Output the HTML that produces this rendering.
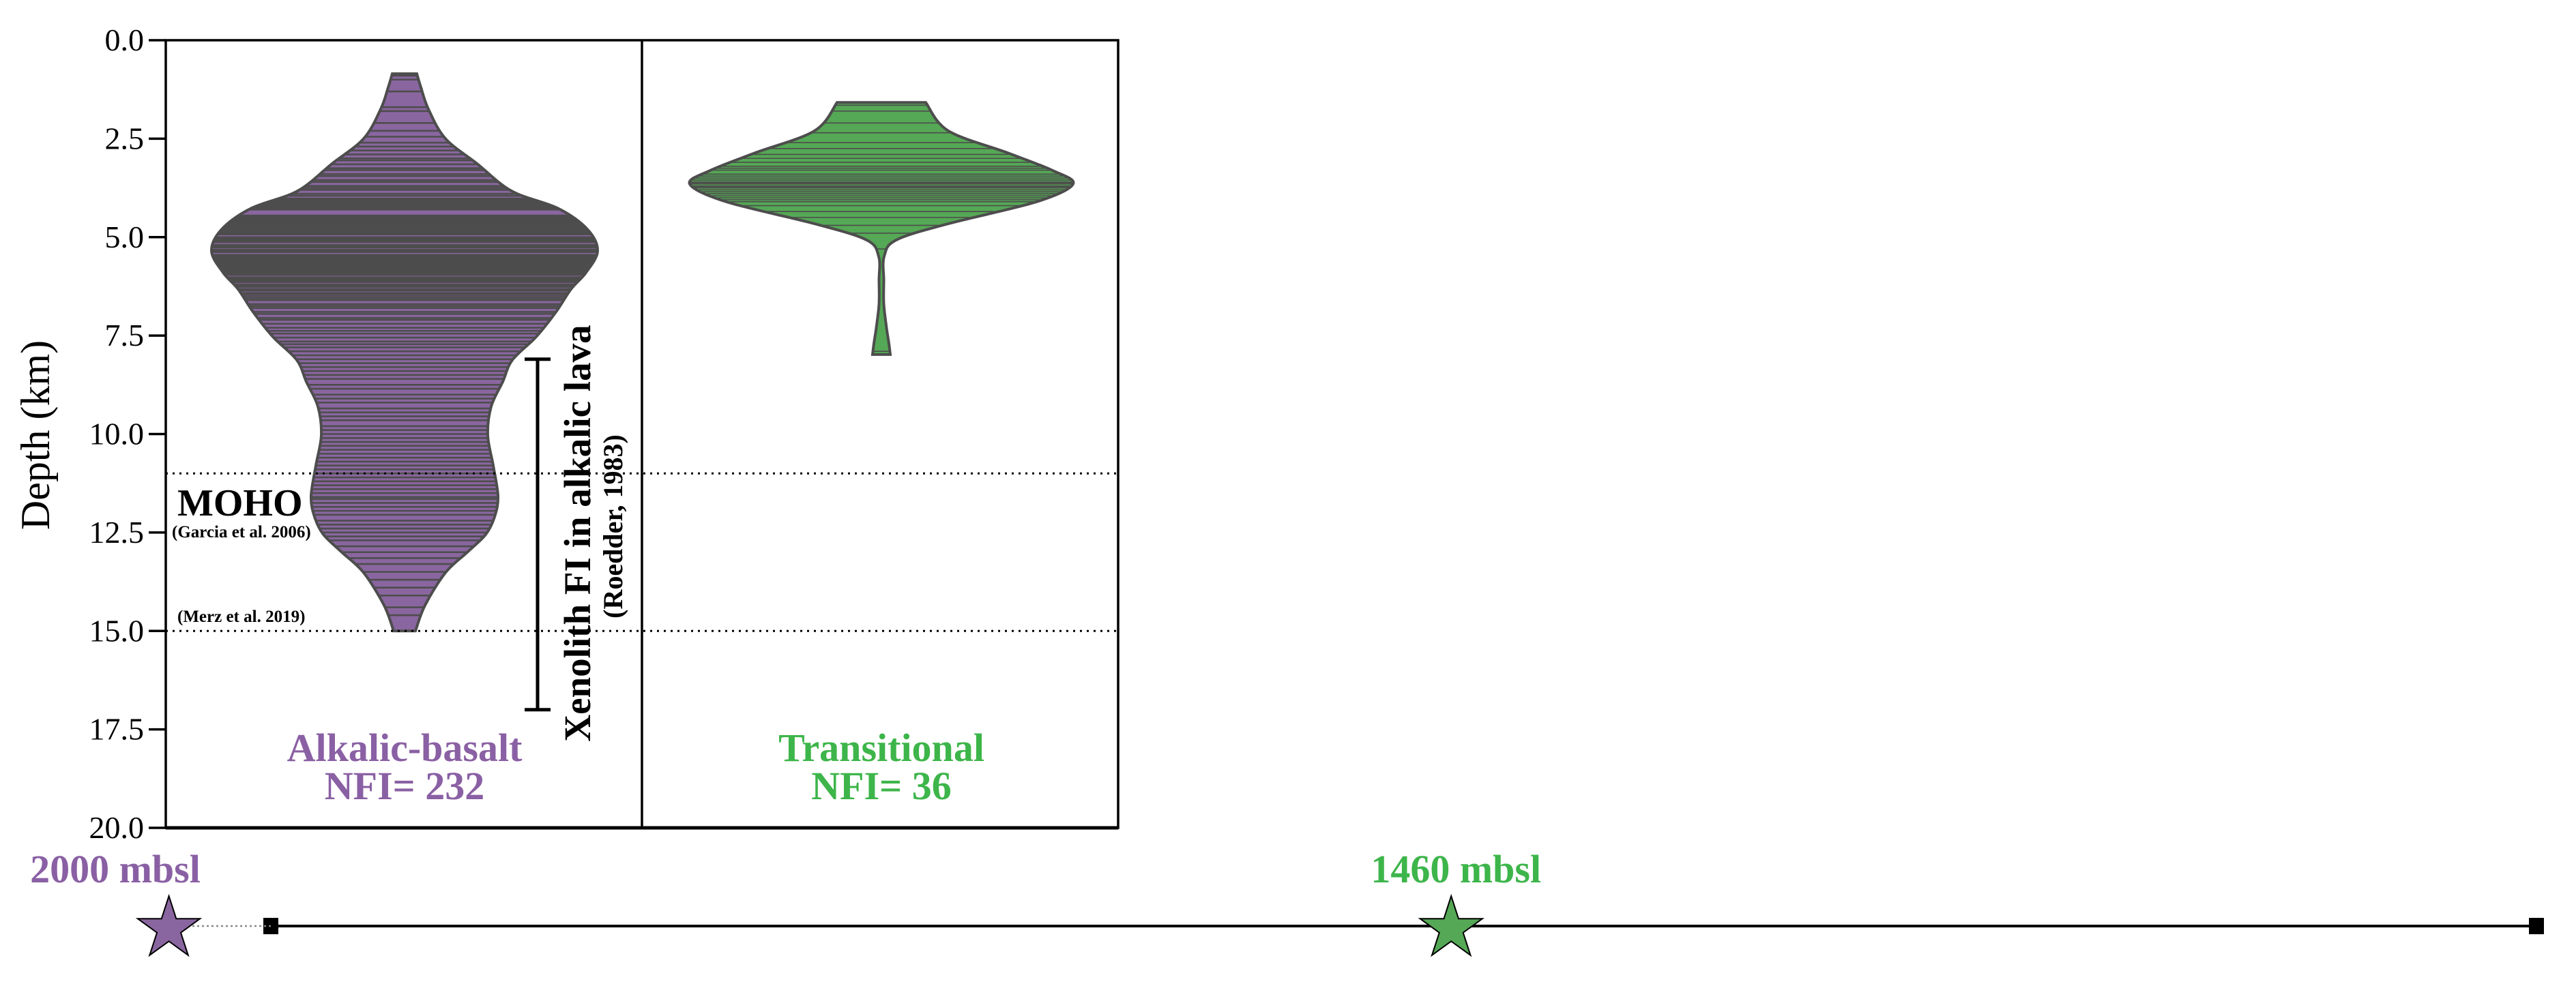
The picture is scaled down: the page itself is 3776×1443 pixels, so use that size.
<!DOCTYPE html>
<html><head><meta charset="utf-8"><style>
html,body{margin:0;padding:0;background:#fff;}
svg{display:block;}
text{font-family:"Liberation Serif","Times New Roman",serif;}
</style></head><body>
<svg id="c" width="3776" height="1443" viewBox="0 0 3776 1443" xmlns="http://www.w3.org/2000/svg">
<defs></defs>
<g id="plot"></g>
<text x="72" y="638" font-size="60" text-anchor="middle" transform="rotate(-90 72 638)">Depth (km)</text>
<text x="260" y="756" font-size="56" font-weight="bold">MOHO</text>
<text x="252" y="788" font-size="25" font-weight="bold">(Garcia et al. 2006)</text>
<text x="260" y="912" font-size="25" font-weight="bold">(Merz et al. 2019)</text>
<text x="865" y="782" font-size="55" font-weight="bold" text-anchor="middle" transform="rotate(-90 865 782)">Xenolith FI in alkalic lava</text>
<text x="912" y="772" font-size="40" font-weight="bold" text-anchor="middle" transform="rotate(-90 912 772)">(Roedder, 1983)</text>
<text x="593" y="1116" font-size="58" font-weight="bold" fill="#8a60a4" text-anchor="middle">Alkalic-basalt</text>
<text x="593" y="1172" font-size="58" font-weight="bold" fill="#8a60a4" text-anchor="middle">NFI= 232</text>
<text x="1292" y="1116" font-size="58" font-weight="bold" fill="#3db54a" text-anchor="middle">Transitional</text>
<text x="1292" y="1172" font-size="58" font-weight="bold" fill="#3db54a" text-anchor="middle">NFI= 36</text>
<g id="timeline"></g>
</svg>
<script>
const NS="http://www.w3.org/2000/svg";
const yTicks=[0,2.5,5,7.5,10,12.5,15,17.5,20];
const yTickLabels=["0.0","2.5","5.0","7.5","10.0","12.5","15.0","17.5","20.0"];
const mohoDepths=[11,15];
const xenolithRange=[8.1,17.0];
const categories=["Alkalic-basalt","Transitional"];
const alkProfileDepth=[0.85,1.2,1.75,2.5,3.13,3.83,4.27,4.8,5.35,5.9,6.32,6.9,7.53,8.12,8.67,9.3,10.03,10.8,11.58,12.1,12.55,13.0,13.52,14.35,15.0];
const alkProfileWidth=[18,24,35,60,106,157,225,268,283,266,244,222,193,158,144,127,122,130,137,132,119,92,60,30,16];
const trProfileDepth=[1.58,2.3,2.86,3.3,3.65,4.1,4.66,5.07,5.49,6.1,6.7,7.3,7.7,7.98];
const trProfileWidth=[65,98,185,250,281,228,98,22,4,3.5,3.5,7.5,11,13];
const alkPoints=[0.9,1.0,1.3,1.7,1.8,2.1,2.3,2.45,2.6,2.7,2.8,2.9,3.0,3.05,3.15,3.25,3.3,3.4,3.45,3.55,3.6,3.7,3.75,3.8,3.9,3.95,4.02,4.06,4.1,4.13,4.16,4.2,4.23,4.27,4.3,4.45,4.48,4.51,4.54,4.57,4.6,4.63,4.66,4.69,4.72,4.75,4.78,4.81,4.84,4.87,4.9,4.93,5.0,5.03,5.06,5.1,5.13,5.2,5.23,5.26,5.32,5.35,5.38,5.45,5.48,5.51,5.54,5.57,5.6,5.63,5.66,5.69,5.72,5.75,5.78,5.81,5.84,5.87,5.9,5.93,5.96,6.02,6.05,6.08,6.11,6.14,6.2,6.23,6.26,6.32,6.36,6.42,6.45,6.5,6.55,6.6,6.7,6.75,6.8,6.9,6.95,7.05,7.1,7.2,7.3,7.38,7.45,7.55,7.65,7.72,7.8,7.9,8.0,8.1,8.2,8.3,8.4,8.5,8.6,8.75,8.85,9.0,9.1,9.2,9.35,9.45,9.55,9.65,9.8,9.9,10.0,10.1,10.2,10.3,10.4,10.5,10.6,10.7,10.8,10.9,11.0,11.1,11.2,11.3,11.4,11.5,11.6,11.65,11.75,11.85,11.95,12.05,12.2,12.3,12.4,12.5,12.6,12.7,12.85,13.0,13.15,13.3,13.5,13.7,13.9,14.1,14.4,14.6];
const trPoints=[1.65,1.8,2.1,2.35,2.6,2.75,2.9,3.0,3.1,3.2,3.25,3.3,3.4,3.45,3.5,3.55,3.6,3.62,3.65,3.7,3.72,3.75,3.8,3.85,3.9,3.95,4.0,4.05,4.1,4.2,4.35,4.5,4.7,4.9,5.3,7.9];
const siteLabels=["2000 mbsl","1460 mbsl"];
const sitePos=[-0.045,0.521];

const X0=243,X1=1639,Y0=59,Y1=1214,XM=941;
const centers=[593,1292];
const fills=["#8a66a0","#55a855"];
function yS(d){return Y0+(d-yTicks[0])/(yTicks[yTicks.length-1]-yTicks[0])*(Y1-Y0);}
function el(t,a,p){const e=document.createElementNS(NS,t);for(const k in a)e.setAttribute(k,a[k]);(p||plot).appendChild(e);return e;}
const plot=document.getElementById('plot');
const defs=document.querySelector('defs');

function smooth(pts){
  let d="M"+pts[0][0]+","+pts[0][1];
  for(let i=0;i<pts.length-1;i++){
    const p0=pts[Math.max(0,i-1)],p1=pts[i],p2=pts[i+1],p3=pts[Math.min(pts.length-1,i+2)];
    const c1=[p1[0]+(p2[0]-p0[0])/6,p1[1]+(p2[1]-p0[1])/6];
    const c2=[p2[0]-(p3[0]-p1[0])/6,p2[1]-(p3[1]-p1[1])/6];
    d+=" C"+c1[0]+","+c1[1]+" "+c2[0]+","+c2[1]+" "+p2[0]+","+p2[1];
  }
  return d;
}
function violinPath(cx,ds,ws){
  const right=ds.map((d,i)=>[cx+ws[i],yS(d)]);
  const left=ds.map((d,i)=>[cx-ws[i],yS(d)]).reverse();
  let p=smooth(right);
  p+=" L"+left[0][0]+","+left[0][1];
  p+=smooth(left).replace(/^M[^ ]+/,"");
  return p+" Z";
}
function drawViolin(idx,ds,ws,pts,name,sw){
  const path=violinPath(centers[idx],ds,ws);
  const cp=el('clipPath',{id:'clip'+idx},defs);
  el('path',{d:path},cp);
  const body=el('path',{d:path,fill:fills[idx],stroke:'none'});
  
  
  const g=el('g',{'clip-path':'url(#clip'+idx+')'});
  
  
  pts.forEach(v=>{
    const l=el('line',{x1:centers[idx]-300,x2:centers[idx]+300,y1:yS(v),y2:yS(v),stroke:'#4d4d4d','stroke-width':sw},g);
    
    
  });
  const o=el('path',{d:path,fill:'none',stroke:'#4d4d4d','stroke-width':4});
  
  
}
drawViolin(0,alkProfileDepth,alkProfileWidth,alkPoints,'alkalic-basalt',2.6);
drawViolin(1,trProfileDepth,trProfileWidth,trPoints,'transitional',1.6);

mohoDepths.forEach((m,i)=>{
  const l=el('line',{x1:X0,x2:X1,y1:yS(m),y2:yS(m),stroke:'#000','stroke-width':3,'stroke-dasharray':'3,7'});
  
  
});
const xb=788;
let e=el('line',{x1:xb,x2:xb,y1:yS(xenolithRange[0]),y2:yS(xenolithRange[1]),stroke:'#000','stroke-width':5});


[0,1].forEach(i=>{
  const c=el('line',{x1:xb-19,x2:xb+19,y1:yS(xenolithRange[i]),y2:yS(xenolithRange[i]),stroke:'#000','stroke-width':5});
  
  
});
e=el('rect',{x:X0,y:Y0,width:X1-X0,height:Y1-Y0,fill:'none',stroke:'#000','stroke-width':3.5});


e=el('line',{x1:XM,x2:XM,y1:Y0,y2:Y1,stroke:'#000','stroke-width':3.5});


e=el('line',{x1:X0,x2:X1,y1:Y1,y2:Y1,stroke:'#000','stroke-width':5});


yTicks.forEach((t,i)=>{
  const tk=el('line',{x1:X0-25,x2:X0,y1:yS(t),y2:yS(t),stroke:'#000','stroke-width':3.5});
  
  
  const tx=el('text',{x:X0-32,y:yS(t)+15,'font-size':46,'text-anchor':'end'});
  tx.textContent=yTickLabels[i];
  
  
});
const tl=document.getElementById('timeline');
const TX0=397,TX1=3718,TY=1358;
function tX(f){return TX0+f*(TX1-TX0);}
e=el('line',{x1:TX0,x2:TX1,y1:TY,y2:TY,stroke:'#000','stroke-width':4},tl);


[TX0,TX1].forEach(x=>{
  const s=el('rect',{x:x-11,y:TY-12,width:22,height:24,fill:'#000'},tl);
  
  
});
e=el('line',{x1:268,x2:TX0,y1:TY,y2:TY,stroke:'#888','stroke-width':2.5,'stroke-dasharray':'3,4'},tl);


function star(cx,cy,R){
  const r=R*0.382;let p=[];
  for(let i=0;i<10;i++){const a=-Math.PI/2+i*Math.PI/5;const rr=i%2?r:R;p.push((cx+rr*Math.cos(a)).toFixed(1)+","+(cy+rr*Math.sin(a)).toFixed(1));}
  return p.join(" ");
}
siteLabels.forEach((lab,i)=>{
  const cx=tX(sitePos[i]);
  const s=el('polygon',{points:star(cx,1362,48),fill:fills[i],stroke:'#000','stroke-width':2},tl);
  
  
  const t=el('text',{x:i===0?169:cx+7,y:1294,'font-size':58,'font-weight':'bold',fill:i?'#3db54a':'#8a60a4','text-anchor':'middle'},tl);
  t.textContent=lab;
  
  
});
</script>
</body></html>
